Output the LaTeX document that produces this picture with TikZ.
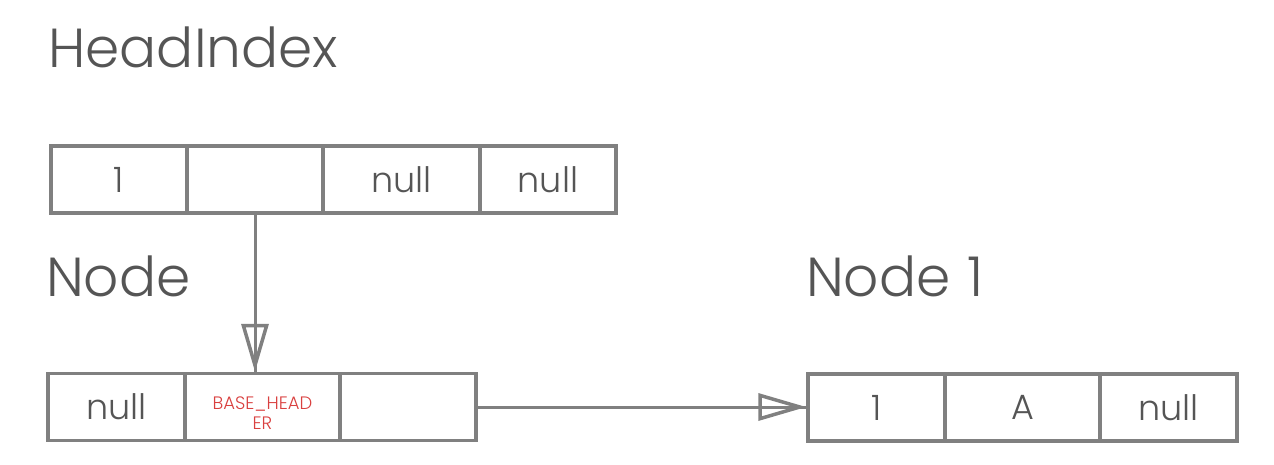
\documentclass[tikz,border=0pt]{standalone}
\usepackage{fontspec}
\setmainfont{Poppins Light}
\usetikzlibrary{arrows.meta}
\definecolor{boxgray}{HTML}{808080}
\definecolor{txtgray}{HTML}{555555}
\definecolor{redtxt}{HTML}{D9403F}
\tikzset{
  cell/.style={draw=boxgray, line width=3.5pt, rectangle, inner sep=0pt,
    minimum height=67pt, text=txtgray, font=\fontsize{35}{38}\selectfont},
  heading/.style={anchor=base west, inner sep=0pt, text=txtgray,
    font=\fontsize{55}{60}\selectfont},
  conn/.style={draw=boxgray, line width=3pt},
  tipped/.style={draw=boxgray, line width=3pt,
    -{Triangle[open, length=48pt, width=27pt, line width=3.5pt]}},
}
\begin{document}
\begin{tikzpicture}[x=1pt,y=-1pt]
\useasboundingbox (0,0) rectangle (1274,464);
% headings
\node[heading] (tHead) at (48,67) {HeadIndex};
\node[heading] (tNode) at (46,296) {Node};
\node[heading] (tNodeOne) at (806,296) {Node\hspace{0.3em}1};
% HeadIndex cells
\node[cell, minimum width=136pt] (h1) at (119,179.5) {1};
\node[cell, minimum width=136pt] (h2) at (255,179.5) {};
\node[cell, minimum width=157pt] (h3) at (401.5,179.5) {null};
\node[cell, minimum width=136pt] (h4) at (548,179.5) {null};
% Node cells
\node[cell, minimum width=137pt] (n1) at (116.5,407) {null};
\node[cell, minimum width=155pt, text=redtxt, align=center,
  text height=44pt, text depth=0pt,
  font=\fontsize{18}{20}\selectfont] (n2) at (262.5,407) {BASE\_HEAD\\ER};
\node[cell, minimum width=136pt] (n3) at (408,407) {};
% Node 1 cells
\node[cell, minimum width=137pt] (m1) at (876.5,407.5) {1};
\node[cell, minimum width=155pt] (m2) at (1022.5,407.5) {A};
\node[cell, minimum width=137pt] (m3) at (1168.5,407.5) {null};
% connectors
\coordinate (vEnd) at (h2.south |- n2.north);
\draw[conn] (h2.south) -- (vEnd);
\draw[tipped] (h2.south) -- (vEnd);
\coordinate (hEnd) at (m1.west |- n3.east);
\draw[conn] (n3.east) -- (hEnd);
\draw[tipped] (n3.east) -- (hEnd);
\end{tikzpicture}
\end{document}
